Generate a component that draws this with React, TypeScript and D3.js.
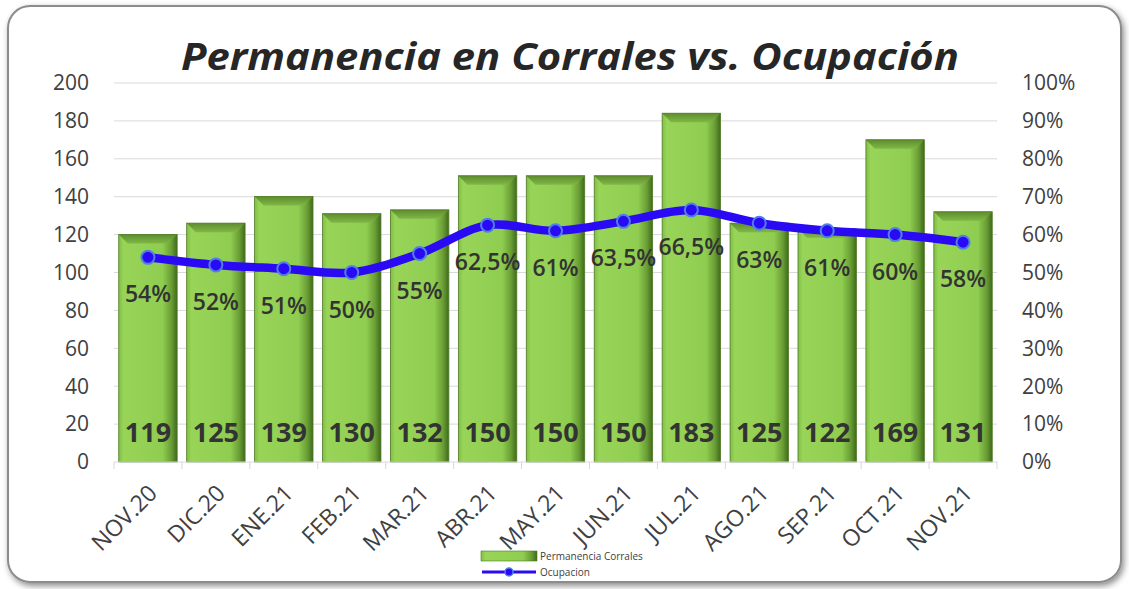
import * as d3 from 'd3';

const MONTHS = ['NOV.20', 'DIC.20', 'ENE.21', 'FEB.21', 'MAR.21', 'ABR.21', 'MAY.21', 'JUN.21', 'JUL.21', 'AGO.21', 'SEP.21', 'OCT.21', 'NOV.21'];
const PERMANENCIA = [119, 125, 139, 130, 132, 150, 150, 150, 183, 125, 122, 169, 131];
const OCUPACION = [54, 52, 51, 50, 55, 62.5, 61, 63.5, 66.5, 63, 61, 60, 58];
const LEFT_TICKS = [0, 20, 40, 60, 80, 100, 120, 140, 160, 180, 200];
const RIGHT_TICKS = [0, 10, 20, 30, 40, 50, 60, 70, 80, 90, 100];

const W = 1129;
const H = 589;
const PLOT = { left: 114, right: 997, top: 83, bottom: 462 };
const FONT = "'Open Sans', 'Noto Sans', sans-serif";

export default function App() {
    const x = d3.scaleBand().domain(MONTHS).range([PLOT.left, PLOT.right]).paddingInner(0.14).paddingOuter(0.07);
    const yL = d3.scaleLinear().domain([0, 200]).range([PLOT.bottom, PLOT.top]);
    const yR = d3.scaleLinear().domain([0, 100]).range([PLOT.bottom, PLOT.top]);
    const bw = x.bandwidth();
    const cx = (m: string) => (x(m) ?? 0) + bw / 2;

    const line = d3
        .line<number>()
        .x((_, i) => cx(MONTHS[i]))
        .y((d) => yR(d))
        .curve(d3.curveCatmullRom.alpha(0.5));

    const fmtPct = (v: number) => String(v).replace('.', ',') + '%';
    const bev = 9;

    return (
        <svg width={W} height={H} style={{ position: 'absolute', left: 0, top: 0 }}>
            <defs>
                <linearGradient id="barG" x1="0" x2="1" y1="0" y2="0">
                    <stop offset="0" stopColor="#7fbf45" />
                    <stop offset="0.08" stopColor="#98d458" />
                    <stop offset="0.75" stopColor="#8fcd50" />
                    <stop offset="0.9" stopColor="#6a9e35" />
                    <stop offset="1" stopColor="#3f6a1c" />
                </linearGradient>
                <linearGradient id="topG" x1="0" x2="0" y1="0" y2="1">
                    <stop offset="0" stopColor="#5f8c2e" />
                    <stop offset="1" stopColor="#7fb846" />
                </linearGradient>
                <filter id="shadow" x="-5%" y="-5%" width="110%" height="110%">
                    <feDropShadow dx="2" dy="3" stdDeviation="3" floodColor="#000" floodOpacity="0.45" />
                </filter>
            </defs>
            <rect x={0} y={0} width={W} height={H} fill="#fff" />
            <rect x={8} y={6} width={1113} height={576} rx={22} fill="#fff" stroke="#8c8c8c" strokeWidth={2} filter="url(#shadow)" />

            <text x={570} y={70} textAnchor="middle" fontFamily={FONT} fontStyle="italic" fontWeight="bold" fontSize={38} fill="#262626" textLength={778} lengthAdjust="spacingAndGlyphs">
                Permanencia en Corrales vs. Ocupación
            </text>

            {LEFT_TICKS.map((t) => (
                <g key={'l' + t}>
                    {t > 0 && <line x1={PLOT.left} x2={PLOT.right} y1={yL(t)} y2={yL(t)} stroke="#d9d9d9" strokeWidth={1} />}
                    <text x={89} y={yL(t)} dy="0.35em" textAnchor="end" fontFamily={FONT} fontSize={21} fill="#404040">
                        {t}
                    </text>
                </g>
            ))}
            {RIGHT_TICKS.map((t) => (
                <text key={'r' + t} x={1022} y={yR(t)} dy="0.35em" textAnchor="start" fontFamily={FONT} fontSize={21} fill="#404040">
                    {t + '%'}
                </text>
            ))}

            {PERMANENCIA.map((v, i) => {
                const m = MONTHS[i];
                const x0 = x(m) ?? 0;
                const y0 = yL(v) - 2;
                return (
                    <g key={m}>
                        <rect x={x0} y={y0} width={bw} height={PLOT.bottom - y0} fill="url(#barG)" />
                        <polygon points={`${x0},${y0} ${x0 + bw},${y0} ${x0 + bw - bev},${y0 + bev} ${x0 + bev},${y0 + bev}`} fill="url(#topG)" />
                        <rect x={x0} y={y0} width={bw} height={PLOT.bottom - y0} fill="none" stroke="#4f7a25" strokeWidth={0.8} />
                    </g>
                );
            })}

            <line x1={PLOT.left} x2={PLOT.right} y1={PLOT.bottom} y2={PLOT.bottom} stroke="#d9d9d9" strokeWidth={1} />
            {d3.range(MONTHS.length + 1).map((i) => {
                const xt = PLOT.left + ((PLOT.right - PLOT.left) / MONTHS.length) * i;
                return <line key={'t' + i} x1={xt} x2={xt} y1={PLOT.bottom} y2={PLOT.bottom + 7} stroke="#d9d9d9" />;
            })}

            {PERMANENCIA.map((v, i) => (
                <text key={'v' + i} x={cx(MONTHS[i])} y={433} dy="0.35em" textAnchor="middle" fontFamily={FONT} fontWeight="bold" fontSize={27} fill="#333">
                    {v}
                </text>
            ))}

            <path d={line(OCUPACION) ?? ''} fill="none" stroke="#2a0af5" strokeWidth={8.5} strokeLinejoin="round" />
            {OCUPACION.map((v, i) => (
                <circle key={'c' + i} cx={cx(MONTHS[i])} cy={yR(v)} r={6.5} fill="#2a0af5" stroke="#4f7fe8" strokeWidth={2} />
            ))}
            {OCUPACION.map((v, i) => (
                <text key={'p' + i} x={cx(MONTHS[i])} y={yR(v) + 37} dy="0.35em" textAnchor="middle" fontFamily={FONT} fontWeight={600} fontSize={23} fill="#333">
                    {fmtPct(v)}
                </text>
            ))}

            {MONTHS.map((m) => (
                <text key={'x' + m} transform={`translate(${cx(m) + 5},${PLOT.bottom + 27}) rotate(-45)`} textAnchor="end" dy="0.35em" fontFamily={FONT} fontSize={23} fill="#404040">
                    {m}
                </text>
            ))}

            <g fontFamily={FONT} fontSize={10} fill="#404040">
                <rect x={481} y={551} width={56} height={10} fill="url(#barG)" stroke="#4f7a25" strokeWidth={0.6} />
                <text x={540} y={556} dy="0.35em">Permanencia Corrales</text>
                <line x1={482} x2={536} y1={572} y2={572} stroke="#2a0af5" strokeWidth={3} />
                <circle cx={509} cy={572} r={4} fill="#2a0af5" stroke="#4f7fe8" strokeWidth={1.5} />
                <text x={540} y={572} dy="0.35em">Ocupacion</text>
            </g>
        </svg>
    );
}
